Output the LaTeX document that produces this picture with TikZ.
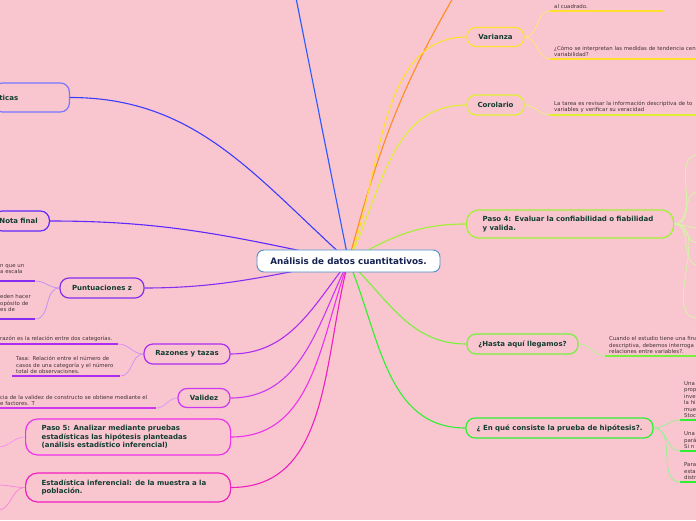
\documentclass[tikz,border=0pt]{standalone}
\usepackage{fontspec}
\setmainfont{DejaVu Sans}
\usetikzlibrary{backgrounds,positioning}
\definecolor{mmbg}{RGB}{249,198,208}
\definecolor{mmtext}{RGB}{18,60,48}
\definecolor{mmleaf}{RGB}{68,50,54}
\definecolor{cnttext}{RGB}{22,34,82}
\definecolor{cntline}{RGB}{74,144,204}
\definecolor{cblue}{RGB}{40,90,255}
\definecolor{cindigo}{RGB}{60,60,255}
\definecolor{cviolet}{RGB}{95,40,255}
\definecolor{cpurple}{RGB}{135,45,240}
\definecolor{clilac}{RGB}{175,45,240}
\definecolor{corchid}{RGB}{205,55,240}
\definecolor{cmagenta}{RGB}{238,50,235}
\definecolor{cpink}{RGB}{242,30,190}
\definecolor{corange}{RGB}{255,140,30}
\definecolor{cyellow}{RGB}{255,222,50}
\definecolor{clime}{RGB}{222,238,50}
\definecolor{cgrass}{RGB}{160,240,50}
\definecolor{cleaf}{RGB}{120,240,60}
\definecolor{cgreen}{RGB}{50,238,50}

\begin{document}
\begin{tikzpicture}[x=1pt,y=1pt,
    branch/.style={draw,rounded corners=9pt,line width=1.2pt,text=mmtext,
      font=\bfseries\fontsize{7}{8.5}\selectfont,minimum height=20pt,inner xsep=6pt,inner ysep=2pt},
    wide/.style={branch,rounded corners=12pt,align=left,inner xsep=16pt},
    leaf/.style={text=mmleaf,font=\fontsize{5.4}{6.5}\selectfont,align=left,inner xsep=4pt,inner ysep=2pt},
    link/.style={line width=1.1pt},
    twig/.style={line width=.7pt},
    uline/.style={line width=1.8pt}]
  \useasboundingbox (0,0) rectangle (696,520);
  % centre
  \node[draw=cntline,fill=white,line width=.9pt,rounded corners=7pt,minimum width=183pt,minimum height=22pt,
    text=cnttext,font=\bfseries\fontsize{8.8}{10}\selectfont] (cnt) at (348.5,259) {Análisis de datos cuantitativos.};
  % left branches
  \node[branch,draw=cindigo!70!white,anchor=east,text width=64pt,align=left,minimum height=29pt] (ticas) at (70,422.5) {ticas};
  \node[branch,draw=cviolet,anchor=east,text width=44pt,align=left] (nota) at (50,299) {Nota final};
  \node[branch,draw=cpurple,minimum width=84pt] (punt) at (102,232) {Puntuaciones z};
  \node[branch,draw=clilac,minimum width=86pt] (razon) at (187,166) {Razones y tazas};
  \node[branch,draw=corchid,minimum width=52pt,minimum height=19pt] (valid) at (204,122) {Validez};
  \node[wide,draw=cmagenta,anchor=west,text width=173pt,minimum height=36pt] (paso5) at (25,83)
    {Paso 5: Analizar mediante pruebas\\estadísticas las hipótesis planteadas\\(análisis estadístico inferencial)};
  \node[wide,draw=cpink,anchor=west,text width=173pt,minimum height=29pt] (infer) at (25,32.5)
    {Estadística inferencial: de la muestra a la\\población.};
  % right branches
  \node[branch,draw=cyellow,minimum width=57pt,minimum height=19pt] (varz) at (495.5,483) {Varianza};
  \node[branch,draw=clime,minimum width=57pt] (corol) at (495.5,415) {Corolario};
  \node[wide,draw=cgrass,anchor=west,text width=175pt,minimum height=28pt] (paso4) at (466,296)
    {Paso 4: Evaluar la confiabilidad o fiabilidad\\y valida.};
  \node[branch,draw=cleaf,minimum width=111pt] (hasta) at (522.5,176) {¿Hasta aquí llegamos?};
  \node[branch,draw=cgreen,minimum width=187pt] (prueba) at (559.5,92) {¿ En qué consiste la prueba de hipótesis?.};
  % leaves
  \node[leaf,anchor=south west,text width=31pt,inner ysep=7pt] (z1) at (-4,239) {n que un\\a escala};
  \node[leaf,anchor=south west,text width=31pt,inner ysep=7pt] (z2) at (-4,201) {eden hacer\\opósito de\\es de};
  \node[leaf,anchor=south west,text width=114pt] (r1) at (-4,176) {razón es la relación entre dos categorías.};
  \node[leaf,anchor=south west,text width=100pt] (r2) at (12,144)
    {Tasa: Relación entre el número de\\casos de una categoría y el número\\total de observaciones.};
  \node[leaf,anchor=south west,text width=152pt] (v1) at (-4,112)
    {cia de la validez de constructo se obtiene mediante el\\e factores. T};
  \node[leaf,anchor=south west,text width=105pt] (var1) at (550,509) {al cuadrado.};
  \node[leaf,anchor=south west,text width=200pt] (var2) at (550,461)
    {¿Cómo se interpretan las medidas de tendencia cen\\variabilidad?};
  \node[leaf,anchor=south west,text width=200pt] (cor1) at (550,405)
    {La tarea es revisar la información descriptiva de to\\variables y verificar su veracidad};
  \node[leaf,anchor=south west,text width=200pt] (has1) at (605,164)
    {Cuando el estudio tiene una fina\\descriptiva, debemos interroga\\relaciones entre variables?.};
  \node[leaf,anchor=south west,text width=40pt] (pru1) at (680,100) {Una\\prop\\inve\\la hi\\mue\\Stoc};
  \node[leaf,anchor=south west,text width=40pt] (pru2) at (680,69) {Una\\pará\\Si n};
  \node[leaf,anchor=south west,text width=40pt] (pru3) at (680,38) {Para\\esta\\distr};
  \draw[uline,cpurple] (z1.south west)--(z1.south east); \draw[uline,cpurple] (z2.south west)--(z2.south east);
  \draw[uline,clilac] (r1.south west)--(r1.south east); \draw[uline,clilac] (r2.south west)--(r2.south east);
  \draw[uline,corchid] (v1.south west)--(v1.south east);
  \draw[uline,cyellow] (var1.south west)--(var1.south east); \draw[uline,cyellow] (var2.south west)--(var2.south east);
  \draw[uline,clime] (cor1.south west)--(cor1.south east);
  \draw[uline,cleaf] (has1.south west)--(has1.south east);
  \draw[uline,cgreen] (pru1.south west)--(pru1.south east); \draw[uline,cgreen] (pru2.south west)--(pru2.south east);
  \draw[uline,cgreen] (pru3.south west)--(pru3.south east);
  % free ends off the page
  \coordinate (topoff) at (296,522); \coordinate (orgoff) at (453,522);
  \coordinate (p5off) at (-2,73); \coordinate (inoff1) at (-2,35); \coordinate (inoff2) at (-2,10);
  \coordinate (q1) at (698,365); \coordinate (q2) at (698,328); \coordinate (q3) at (698,292);
  \coordinate (q4) at (698,277); \coordinate (q5) at (698,255); \coordinate (q6) at (698,202);
  \begin{scope}[on background layer]
    \fill[mmbg] (0,0) rectangle (696,520);
    % main links
    \draw[link,cblue] (cnt.center)--(topoff);
    \draw[link,cindigo] (cnt.center) to[out=138,in=0] (ticas.east);
    \draw[link,cviolet] (cnt.center) to[out=168,in=0] (nota.east);
    \draw[link,cpurple] (cnt.center) to[out=190,in=0] (punt.east);
    \draw[link,clilac] (cnt.center) to[out=232,in=0] (razon.east);
    \draw[link,corchid] (cnt.center) to[out=244,in=0] (valid.east);
    \draw[link,cmagenta] (cnt.center) to[out=250,in=0] (paso5.east);
    \draw[link,cpink] (cnt.center) to[out=255,in=0] (infer.east);
    \draw[link,corange] (cnt.center) to[out=75,in=240] (orgoff);
    \draw[link,cyellow] (cnt.center) to[out=68,in=180,looseness=.9] (varz.west);
    \draw[link,clime] (cnt.center) to[out=64,in=180] (corol.west);
    \draw[link,cgrass] (cnt.center) to[out=30,in=180] (paso4.west);
    \draw[link,cleaf] (cnt.center) to[out=-44,in=180] (hasta.west);
    \draw[link,cgreen] (cnt.center) to[out=-67,in=180] (prueba.west);
    % twigs
    \draw[twig,cpurple!55!white] (punt.west) to[out=180,in=0] (z1.south east);
    \draw[twig,cpurple!55!white] (punt.west) to[out=180,in=0] (z2.south east);
    \draw[twig,clilac!55!white] (razon.west) to[out=180,in=0] (r1.south east);
    \draw[twig,clilac!55!white] (razon.west) to[out=180,in=0] (r2.south east);
    \draw[twig,corchid!55!white] (valid.west) to[out=180,in=0] (v1.south east);
    \draw[twig,cmagenta!55!white] (paso5.west) to[out=180,in=0] (p5off);
    \draw[twig,cpink!55!white] (infer.west) to[out=180,in=0] (inoff1);
    \draw[twig,cpink!55!white] (infer.west) to[out=180,in=0] (inoff2);
    \draw[twig,cyellow!70!white] (varz.east) to[out=0,in=180] (var1.south west);
    \draw[twig,cyellow!70!white] (varz.east) to[out=0,in=180] (var2.south west);
    \draw[twig,clime!70!white] (corol.east) to[out=0,in=180] (cor1.south west);
    \draw[twig,cgrass!45!white] (paso4.east) to[out=0,in=180] (q1); \draw[twig,cgrass!45!white] (paso4.east) to[out=0,in=180] (q2);
    \draw[twig,cgrass!45!white] (paso4.east) to[out=0,in=180] (q3); \draw[twig,cgrass!45!white] (paso4.east) to[out=0,in=180] (q4);
    \draw[twig,cgrass!45!white] (paso4.east) to[out=0,in=180] (q5); \draw[twig,cgrass!45!white] (paso4.east) to[out=0,in=180] (q6);
    \draw[twig,cleaf!60!white] (hasta.east) to[out=0,in=180] (has1.south west);
    \draw[twig,cgreen!55!white] (prueba.east) to[out=0,in=180] (pru1.south west);
    \draw[twig,cgreen!55!white] (prueba.east) to[out=0,in=180] (pru2.south west);
    \draw[twig,cgreen!55!white] (prueba.east) to[out=0,in=180] (pru3.south west);
  \end{scope}
\end{tikzpicture}
\end{document}
